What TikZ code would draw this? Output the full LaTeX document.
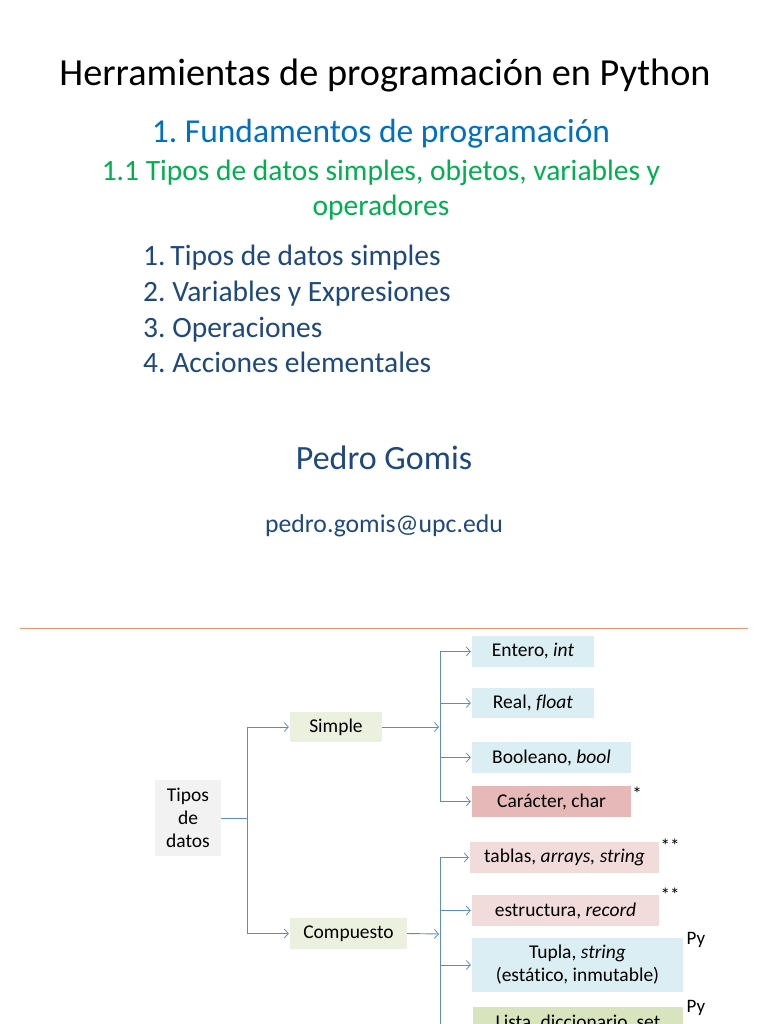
\documentclass[tikz,border=0pt]{standalone}
\usepackage{fontspec}
\setmainfont{Carlito}[Ligatures=NoCommon]
\usetikzlibrary{arrows.meta}
\definecolor{tblue}{HTML}{0070C0}
\definecolor{tgreen}{HTML}{00B050}
\definecolor{tnavy}{HTML}{1F497D}
\definecolor{rule}{RGB}{240,145,105}
\definecolor{conn}{RGB}{90,140,205}
\definecolor{grayfill}{HTML}{F2F2F2}
\definecolor{simplefill}{HTML}{EBF1DE}
\definecolor{bluefill}{HTML}{DBEEF4}
\definecolor{redfill}{HTML}{E6B9B8}
\definecolor{pinkfill}{HTML}{F2DCDB}
\definecolor{greenfill}{HTML}{D7E4BD}
\frenchspacing
\tikzset{
  box/.style={inner sep=0pt, align=center, font=\fontsize{19.5}{23}\selectfont, text=black},
  conline/.style={draw=conn, line width=0.9pt},
  arr/.style={conline, -{Straight Barb[length=4pt,width=9pt,line width=0.8pt]}, shorten >=1pt},
  note/.style={inner sep=0pt, font=\fontsize{19}{20}\selectfont, text=black},
  head/.style={inner sep=0pt, anchor=base},
  listitem/.style={anchor=base west, inner sep=0pt, text=tnavy, font=\fontsize{29.5}{34}\selectfont}
}
\begin{document}
\begin{tikzpicture}[x=1pt,y=-1pt]
\useasboundingbox (0,0) rectangle (768,1024);
\clip (0,0) rectangle (768,1024);
\fill[white] (0,0) rectangle (768,1024);
% headings
\node[head, font=\fontsize{38.3}{44}\selectfont] (title) at (385,86) {Herramientas de programación en Python};
\node[head, text=tblue, font=\fontsize{33.5}{38}\selectfont] (sub) at (381,143) {1. Fundamentos de programación};
\node[head, text=tgreen, font=\fontsize{29.5}{35}\selectfont] (sub2a) at (381,181) {1.1 Tipos de datos simples, objetos, variables y};
\node[head, text=tgreen, font=\fontsize{29.5}{35}\selectfont] (sub2b) at (381,215) {operadores};
\node[listitem] (l1) at (143,265) {1.\,Tipos de datos simples};
\node[listitem] (l2) at (143,301) {2. Variables y Expresiones};
\node[listitem] (l3) at (143,337) {3. Operaciones};
\node[listitem] (l4) at (143,372) {4. Acciones elementales};
\node[head, text=tnavy, font=\fontsize{34}{38}\selectfont] (author) at (384,469) {Pedro Gomis};
\node[head, text=tnavy, font=\fontsize{25.7}{30}\selectfont] (mail) at (384,532) {pedro.gomis@upc.edu};
% rule
\coordinate (r1) at (20,628);
\coordinate (r2) at (748,628);
\draw[rule, line width=1pt] (r1) -- (r2);
% diagram boxes
\node[box, fill=grayfill, minimum width=66pt, minimum height=76pt] (tipos) at (188,818) {Tipos\\de\\datos};
\node[box, fill=simplefill, minimum width=92pt, minimum height=30pt] (simple) at (336,727) {Simple};
\node[box, fill=simplefill, minimum width=117pt, minimum height=31pt] (comp) at (348.5,933.5) {Compuesto};
\node[box, fill=bluefill, minimum width=122pt, minimum height=31pt] (entero) at (533,651.5) {Entero, \textit{int}};
\node[box, fill=bluefill, minimum width=122pt, minimum height=30pt] (real) at (533,703) {Real, \textit{float}};
\node[box, fill=bluefill, minimum width=159pt, minimum height=31pt] (bool) at (551.5,757.5) {Booleano, \textit{bool}};
\node[box, fill=redfill, minimum width=159pt, minimum height=31pt] (char) at (551.5,801.5) {Carácter, char};
\node[box, fill=pinkfill, minimum width=189pt, minimum height=31pt] (tablas) at (564.5,857.5) {tablas, \textit{arrays, string}};
\node[box, fill=pinkfill, minimum width=187pt, minimum height=31pt] (estr) at (565.5,910.5) {estructura, \textit{record}};
\node[box, fill=bluefill, minimum width=211pt, minimum height=54pt] (tupla) at (577.5,965) {Tupla, \textit{string}\\(estático, inmutable)};
\node[box, fill=greenfill, minimum width=210pt, minimum height=54pt, anchor=north] (lista) at (578,1007) {Lista, diccionario, set\\\phantom{(dinámico)}};
% notes
\node[note] (s1) at (637,794) {*};
\node[note] (s2) at (670,846) {**};
\node[note] (s3) at (670,895) {**};
\node[note] (p1) at (696,940) {Py};
\node[note] (p2) at (696,1008) {Py};
% connectors
\coordinate (j1) at (247,818);
\coordinate (j2) at (440,727);
\coordinate (j3) at (440,934);
\draw[conline] (tipos.east) -- (j1);
\draw[arr] (j1) |- (simple.west);
\draw[arr] (j1) |- (comp.west);
\draw[arr] (simple.east) -- (j2);
\draw[arr] (comp.east) -- (j3);
\draw[arr] (j2) |- (entero.west);
\draw[arr] (j2) |- (real.west);
\draw[arr] (j2) |- (bool.west);
\draw[arr] (j2) |- (char.west);
\draw[arr] (j3) |- (tablas.west);
\draw[arr] (j3) |- (estr.west);
\draw[arr] (j3) |- (tupla.west);
\draw[arr] (j3) |- (lista.west);
\end{tikzpicture}
\end{document}
